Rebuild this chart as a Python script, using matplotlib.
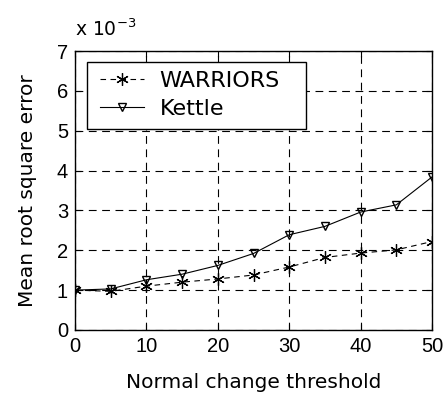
import matplotlib
matplotlib.use("Agg")
import matplotlib.pyplot as plt
import matplotlib.patches as mpatches

plt.rcParams['font.family'] = ['DejaVu Sans']

# data (values in units of 1e-3)
threshold = [0, 5, 10, 15, 20, 25, 30, 35, 40, 45, 50]
warriors = [1.0, 0.97, 1.1, 1.2, 1.28, 1.38, 1.58, 1.82, 1.93, 2.01, 2.22]
kettle = [1.0, 1.03, 1.26, 1.4, 1.62, 1.92, 2.39, 2.6, 2.96, 3.14, 3.84]

fig = plt.figure(figsize=(4.44, 3.99), dpi=100)
ax = fig.add_axes([0.169, 0.173, 0.804, 0.699])

ax.plot(threshold, warriors, color='black', linestyle='--', linewidth=0.8,
        marker=(6, 2, 0), markersize=9, markeredgewidth=0.9, label='WARRIORS',
        dashes=(5, 4))
ax.plot(threshold, kettle, color='black', linestyle='-', linewidth=0.8,
        marker='v', markersize=6, markerfacecolor='none', markeredgewidth=1.0,
        label='Kettle')

ax.set_xlim(0, 50)
ax.set_ylim(0, 7)
ax.set_xticks(range(0, 51, 10))
ax.set_yticks(range(0, 8))
ax.tick_params(direction='in', length=4, width=0.8, pad=5,
               top=True, right=True)
for lbl in ax.get_xticklabels() + ax.get_yticklabels():
    lbl.set_fontfamily(['Liberation Sans Narrow', 'Liberation Sans'])
    lbl.set_fontsize(14.5)
ax.grid(True, color='black', linestyle=(0, (7, 5)), linewidth=0.8)
for s in ax.spines.values():
    s.set_linewidth(1.0)

ax.set_xlabel('Normal change threshold', fontsize=14.5, labelpad=12)
ax.set_ylabel('Mean root square error', fontsize=14.5, labelpad=14)
ax.text(0.0, 1.04, r'x 10$^{-3}$', transform=ax.transAxes, fontsize=13.5,
        ha='left', va='bottom')

# legend box drawn by hand (matlab style, extra room on the right)
box = mpatches.Rectangle((0.034, 0.72), 0.613, 0.241, transform=ax.transAxes,
                         facecolor='white', edgecolor='black', linewidth=1.0,
                         zorder=4.5)
ax.add_patch(box)
leg = ax.legend(loc='center left', bbox_to_anchor=(0.07, 0.842), fontsize=16,
                frameon=False, handlelength=2.0, handletextpad=0.68,
                borderpad=0, labelspacing=0.35, borderaxespad=0)
leg.set_zorder(5)

fig.savefig('out.png', dpi=100)
